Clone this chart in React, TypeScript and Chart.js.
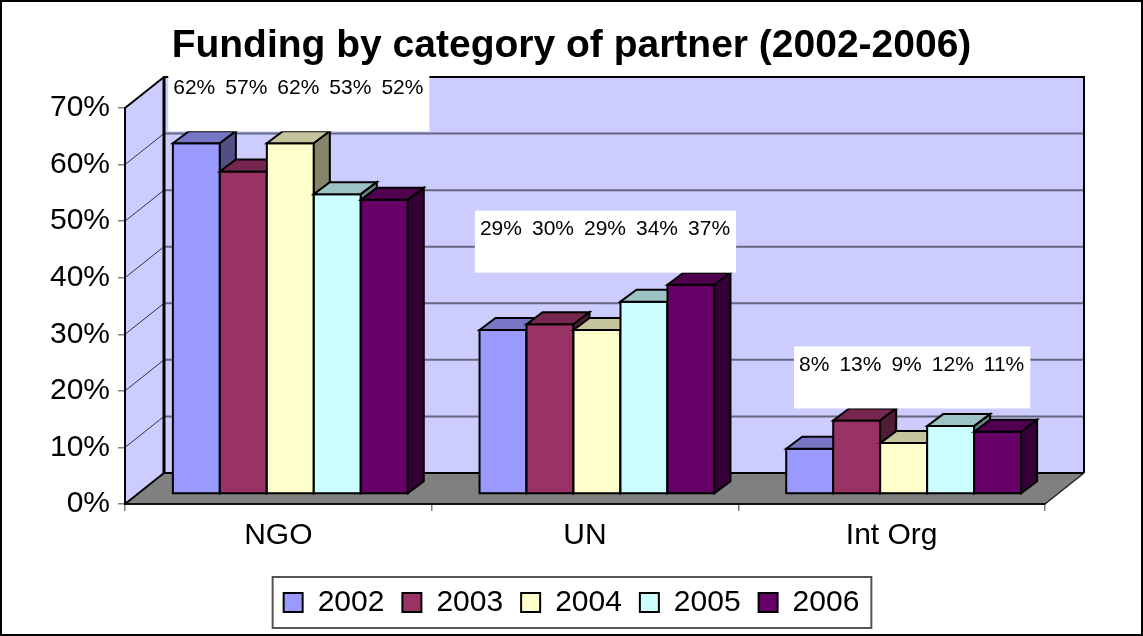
import React, { useEffect, useRef } from 'react';
import { Chart, registerables } from 'chart.js';

Chart.register(...registerables);

// ---------- data ----------
const categories = ['NGO', 'UN', 'Int Org'];
const seriesNames = ['2002', '2003', '2004', '2005', '2006'];
const values2002 = [62, 29, 8];
const values2003 = [57, 30, 13];
const values2004 = [62, 29, 9];
const values2005 = [53, 34, 12];
const values2006 = [52, 37, 11];
const seriesColors = ['#9999FF', '#993366', '#FFFFCC', '#CCFFFF', '#660066'];
const yMax = 70;
const yStep = 10;
const chartTitle = 'Funding by category of partner (2002-2006)';

const allSeries = [values2002, values2003, values2004, values2005, values2006];

// ---------- style ----------
const FONT = "'Liberation Sans', Arial, sans-serif";
const WALL_DX = 39;
const WALL_DY = -31;
const BAR_OX = 12;
const BAR_OY = -10;
const BAR_DX = 16;
const BAR_DY = -12;

function shade(hex: string, f: number): string {
  const n = parseInt(hex.slice(1), 16);
  const r = Math.round(((n >> 16) & 255) * f);
  const g = Math.round(((n >> 8) & 255) * f);
  const b = Math.round((n & 255) * f);
  return `rgb(${r},${g},${b})`;
}

function poly(ctx: CanvasRenderingContext2D, pts: number[][], fill?: string, stroke?: string, lw = 2) {
  ctx.beginPath();
  ctx.moveTo(pts[0][0], pts[0][1]);
  for (let i = 1; i < pts.length; i++) ctx.lineTo(pts[i][0], pts[i][1]);
  ctx.closePath();
  if (fill) {
    ctx.fillStyle = fill;
    ctx.fill();
  }
  if (stroke) {
    ctx.strokeStyle = stroke;
    ctx.lineWidth = lw;
    ctx.lineJoin = 'miter';
    ctx.stroke();
  }
}

function line(ctx: CanvasRenderingContext2D, x1: number, y1: number, x2: number, y2: number, color: string, lw: number) {
  ctx.beginPath();
  ctx.moveTo(x1, y1);
  ctx.lineTo(x2, y2);
  ctx.strokeStyle = color;
  ctx.lineWidth = lw;
  ctx.stroke();
}

const threeDPlugin = {
  id: 'threeD',
  beforeDraw(chart: any) {
    const { ctx, chartArea: a, scales } = chart;
    const yS = scales.y;
    ctx.save();
    ctx.fillStyle = '#ffffff';
    ctx.fillRect(0, 0, chart.width, chart.height);
    ctx.strokeStyle = '#000';
    ctx.lineWidth = 2;
    ctx.strokeRect(1, 1, chart.width - 2, chart.height - 2);

    const L = a.left, R = a.right, T = a.top, B = a.bottom;
    // side wall
    poly(ctx, [[L, T], [L + WALL_DX, T + WALL_DY], [L + WALL_DX, B + WALL_DY], [L, B]], '#CCCCFF');
    // back wall
    ctx.fillStyle = '#CCCCFF';
    ctx.fillRect(L + WALL_DX, T + WALL_DY, R - L, B - T);
    // floor
    poly(ctx, [[L, B], [R, B], [R + WALL_DX, B + WALL_DY], [L + WALL_DX, B + WALL_DY]], '#808080');

    // gridlines
    yS.ticks.forEach((t: any) => {
      if (t.value <= 0 || t.value >= yMax) return;
      const py = yS.getPixelForValue(t.value);
      line(ctx, L, py, L + WALL_DX, py + WALL_DY, '#333344', 1);
      line(ctx, L + WALL_DX, py + WALL_DY, R + WALL_DX, py + WALL_DY, '#666680', 2);
    });

    // outlines
    line(ctx, L, T, L + WALL_DX, T + WALL_DY, '#000', 2);
    line(ctx, L + WALL_DX - 1, T + WALL_DY, R + WALL_DX + 1, T + WALL_DY, '#000', 2);
    line(ctx, R + WALL_DX, T + WALL_DY, R + WALL_DX, B + WALL_DY, '#000', 2);
    line(ctx, L + WALL_DX, T + WALL_DY, L + WALL_DX, B + WALL_DY, '#000', 3);
    line(ctx, L + WALL_DX, B + WALL_DY, R + WALL_DX, B + WALL_DY, '#000', 2);
    line(ctx, L, B, L + WALL_DX, B + WALL_DY, '#000', 2);
    line(ctx, R, B, R + WALL_DX, B + WALL_DY, '#222', 1.5);
    ctx.restore();
  },
  beforeDatasetsDraw(chart: any) {
    const { ctx, scales } = chart;
    const xS = scales.x, yS = scales.y;
    ctx.save();
    const nCat = categories.length;
    for (let j = 0; j < nCat; j++) {
      for (let i = 0; i < allSeries.length; i++) {
        const meta = chart.getDatasetMeta(i);
        const el = meta.data[j];
        if (!el) continue;
        const p = el.getProps(['x', 'y', 'base', 'width'], true);
        const x0 = p.x - p.width / 2 + BAR_OX;
        const x1 = p.x + p.width / 2 + BAR_OX;
        const yt = p.y + BAR_OY;
        const yb = p.base + BAR_OY;
        const col = seriesColors[i];
        // front
        poly(ctx, [[x0, yt], [x1, yt], [x1, yb], [x0, yb]], col, '#000', 2);
        // top
        poly(ctx, [[x0, yt], [x0 + BAR_DX, yt + BAR_DY], [x1 + BAR_DX, yt + BAR_DY], [x1, yt]], shade(col, 0.77), '#000', 2);
        // side
        poly(ctx, [[x1, yt], [x1 + BAR_DX, yt + BAR_DY], [x1 + BAR_DX, yb + BAR_DY], [x1, yb]], shade(col, 0.52), '#000', 2);
      }
    }

    // data labels
    ctx.font = `21px ${FONT}`;
    ctx.textAlign = 'left';
    ctx.textBaseline = 'middle';
    for (let j = 0; j < nCat; j++) {
      const vals = allSeries.map((s) => s[j]);
      const texts = vals.map((v) => `${v}%`);
      const widths = texts.map((t) => ctx.measureText(t).width);
      const gap = 10;
      const total = widths.reduce((s, w) => s + w, 0) + gap * (texts.length - 1);
      const cx = xS.getPixelForValue(j) + BAR_OX + 8;
      const top = yS.getPixelForValue(Math.max(...vals)) - 84;
      const sx = cx - total / 2;
      ctx.fillStyle = '#ffffff';
      ctx.fillRect(sx - 5, top, total + 11, 62);
      ctx.fillStyle = '#000';
      let x = sx;
      texts.forEach((t, i) => {
        ctx.fillText(t, x, top + 19);
        x += widths[i] + gap;
      });
    }
    ctx.restore();
    return false;
  },
  afterDraw(chart: any) {
    const hb = chart.legend && chart.legend.legendHitBoxes;
    if (!hb || !hb.length) return;
    const { ctx } = chart;
    const first = hb[0];
    const last = hb[hb.length - 1];
    const cy = first.top + first.height / 2;
    const left = first.left - 11;
    const right = last.left + last.width + 12;
    ctx.save();
    ctx.strokeStyle = '#555';
    ctx.lineWidth = 2;
    ctx.strokeRect(left, cy - 25.5, right - left, 51);
    ctx.restore();
  },
};

export default function App() {
  const ref = useRef<HTMLCanvasElement>(null);
  useEffect(() => {
    const canvas = ref.current;
    if (!canvas) return;
    const chart = new Chart(canvas, {
      type: 'bar',
      data: {
        labels: categories,
        datasets: seriesNames.map((name, i) => ({
          label: name,
          data: allSeries[i],
          backgroundColor: seriesColors[i],
          borderColor: '#000',
          borderWidth: 2,
          categoryPercentage: 0.766,
          barPercentage: 1,
        })),
      },
      options: {
        responsive: false,
        animation: false,
        events: [],
        layout: { padding: { left: 0, right: 0, top: 0, bottom: 8.5 } },
        plugins: {
          title: {
            display: true,
            text: chartTitle,
            color: '#000',
            font: { family: FONT, size: 39, weight: 'bold' },
            padding: { top: 23, bottom: 38.2 },
          },
          legend: {
            position: 'bottom',
            labels: {
              color: '#000',
              font: { family: FONT, size: 30 },
              boxWidth: 19,
              boxHeight: 19,
              padding: 18,
            },
          },
          tooltip: { enabled: false },
        },
        scales: {
          x: {
            grid: { display: true, offset: true, drawOnChartArea: false, drawTicks: true, tickLength: 7, color: '#808080', lineWidth: 1.5 },
            border: { display: true, color: '#111', width: 2 },
            ticks: { color: '#000', font: { family: FONT, size: 30 }, padding: 7 },
            afterFit: (s: any) => { s.height = 65.5; },
          },
          y: {
            min: 0,
            max: yMax,
            grid: { display: true, drawOnChartArea: false, drawTicks: true, tickLength: 7, color: '#808080', lineWidth: 1.5 },
            border: { display: true, color: '#000', width: 2 },
            ticks: {
              stepSize: yStep,
              color: '#000',
              font: { family: FONT, size: 30 },
              padding: 8,
              callback: (v: any) => `${v}%`,
            },
            afterFit: (s: any) => { s.width = 125; },
          },
          yRight: {
            type: 'linear',
            position: 'right',
            display: true,
            grid: { display: false },
            border: { display: false },
            ticks: { display: false },
            afterFit: (s: any) => { s.width = 98; },
          },
        },
      },
      plugins: [threeDPlugin],
    } as any);
    return () => chart.destroy();
  }, []);
  return (
    <div style={{ position: 'fixed', left: 0, top: 0, width: 1143, height: 636, background: '#fff' }}>
      <canvas ref={ref} width={1143} height={636} style={{ display: 'block', width: 1143, height: 636 }} />
    </div>
  );
}
